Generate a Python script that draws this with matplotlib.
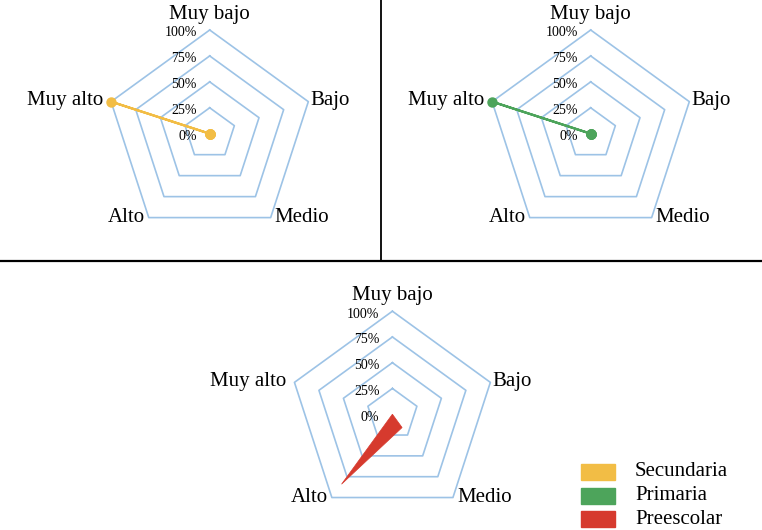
import numpy as np
import matplotlib
matplotlib.use("Agg")
import matplotlib.pyplot as plt
from matplotlib.lines import Line2D
from matplotlib.patches import Rectangle

plt.rcParams['font.family'] = ['Liberation Serif', 'DejaVu Serif']

categories = ['Muy bajo', 'Bajo', 'Medio', 'Alto', 'Muy alto']
secundaria = [0, 0, 0, 0, 100]
primaria = [0, 0, 0, 0, 100]
preescolar = [0, 0, 16, 84, 0]
ring_levels = [25, 50, 75, 100]
ring_labels = ['0%', '25%', '50%', '75%', '100%']
series_names = ['Secundaria', 'Primaria', 'Preescolar']

c_sec = '#F2BD45'
c_pri = '#4DA45B'
c_pre = '#D63A2E'
c_grid = '#9DC3E6'

PX = 72 / 100  # points per pixel

angles = np.deg2rad(np.arange(len(categories)) * 360 / len(categories))
closed = np.append(angles, angles[0])

# offsets (pixels) of the category labels from their vertex
label_pos = {
    'Muy bajo': (0, 16, 'center'),
    'Bajo': (2, 1, 'left'),
    'Medio': (4, 0, 'left'),
    'Alto': (-4, 0, 'right'),
    'Muy alto': (-8, 1, 'right'),
}


def radar_base(ax):
    ax.set_theta_zero_location('N')
    ax.set_theta_direction(-1)
    ax.set_ylim(0, 100)
    ax.grid(False)
    ax.set_xticks([])
    ax.set_yticks([])
    ax.spines['polar'].set_visible(False)
    for lvl in ring_levels:
        ax.plot(closed, [lvl] * len(closed), color=c_grid, lw=1.2, clip_on=False, zorder=1)
    for i, txt in enumerate(ring_labels):
        ax.annotate(txt, xy=(0, i * 25), xytext=(-13 * PX, -3 * PX), textcoords='offset points',
                    ha='right', va='center', fontsize=10, annotation_clip=False)
    for a, cat in zip(angles, categories):
        dx, dy, ha = label_pos[cat]
        ax.annotate(cat, xy=(a, 100), xytext=(dx * PX, dy * PX), textcoords='offset points',
                    ha=ha, va='center', fontsize=15, annotation_clip=False)


fig = plt.figure(figsize=(7.62, 5.30), dpi=100)

ax1 = fig.add_axes([106 / 762, 292.6 / 530, 207.4 / 762, 207.4 / 530], projection='polar')
radar_base(ax1)
ax1.plot(closed, secundaria + secundaria[:1], color=c_sec, lw=1.6, marker='o', ms=6.5,
         clip_on=False, zorder=3)

ax2 = fig.add_axes([487 / 762, 292.6 / 530, 207.4 / 762, 207.4 / 530], projection='polar')
radar_base(ax2)
ax2.plot(closed, primaria + primaria[:1], color=c_pri, lw=1.6, marker='o', ms=6.5,
         clip_on=False, zorder=3)

ax3 = fig.add_axes([289.4 / 762, 12.8 / 530, 206 / 762, 206 / 530], projection='polar')
radar_base(ax3)
ax3.fill(closed, preescolar + preescolar[:1], color=c_pre, lw=0.5, zorder=3)

# separator lines
fig.add_artist(Line2D([381 / 762, 381 / 762], [1, 269 / 530], color='black', lw=1.3))
fig.add_artist(Line2D([0, 1], [269 / 530, 269 / 530], color='black', lw=1.6))

# legend
for i, (name, col) in enumerate(zip(series_names, [c_sec, c_pri, c_pre])):
    yc = 472 + i * 23.5
    fig.add_artist(Rectangle((581 / 762, (530 - yc - 8) / 530), 34 / 762, 16 / 530,
                             transform=fig.transFigure, color=col))
    fig.text(635 / 762, (530 - yc) / 530, name, fontsize=15, ha='left', va='center')

fig.savefig('out.png', dpi=100)
